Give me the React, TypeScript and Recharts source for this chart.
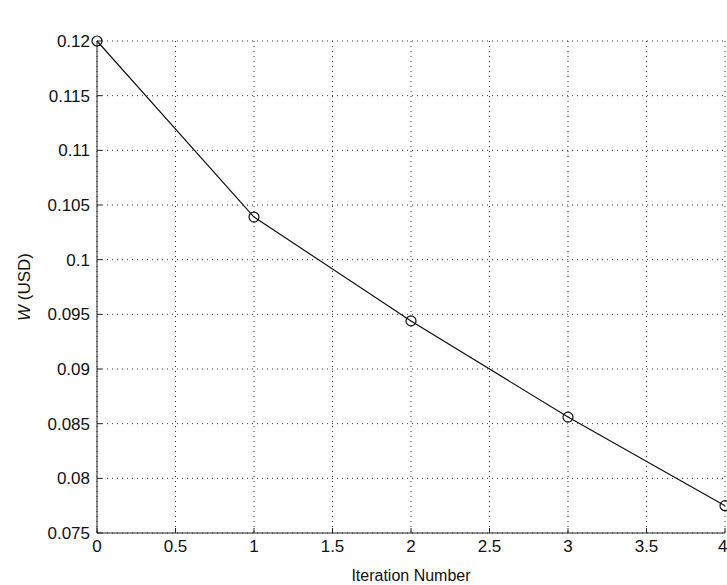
import React from "react";
import {
  LineChart,
  Line,
  XAxis,
  YAxis,
  CartesianGrid,
  Label,
} from "recharts";

const iterations = [0, 1, 2, 3, 4];
const warrantCost = [0.12, 0.1039, 0.0944, 0.0856, 0.0775];

const xTicks = [0, 0.5, 1, 1.5, 2, 2.5, 3, 3.5, 4];
const yTicks = [0.075, 0.08, 0.085, 0.09, 0.095, 0.1, 0.105, 0.11, 0.115, 0.12];

const data = iterations.map((it, i) => ({ it, w: warrantCost[i] }));

const FONT = "'Liberation Sans', Arial, sans-serif";
const tickStyle = { fontSize: 17, fill: "#111", fontFamily: FONT };

const YLabel = ({ viewBox }: any) => {
  const cx = viewBox.x + 24;
  const cy = viewBox.y + viewBox.height / 2;
  return (
    <text
      x={cx}
      y={cy}
      transform={`rotate(-90 ${cx} ${cy})`}
      textAnchor="middle"
      dominantBaseline="central"
      style={{ fontSize: 17, fill: "#111", fontFamily: FONT }}
    >
      <tspan fontStyle="italic">W</tspan> (USD)
    </text>
  );
};

export default function App() {
  return (
    <div style={{ position: "absolute", left: 0, top: 0, background: "#fff" }}>
      <LineChart
        width={727}
        height={585}
        data={data}
        margin={{ top: 41, right: 2, bottom: 0, left: 0 }}
      >
        <CartesianGrid
          xAxisId="bottom"
          yAxisId="left"
          stroke="#333"
          strokeDasharray="1 4"
        />
        <XAxis
          xAxisId="bottom"
          dataKey="it"
          type="number"
          domain={[0, 4]}
          ticks={xTicks}
          height={52}
          stroke="#222"
          tickSize={-5}
          tickMargin={12}
          tick={tickStyle}
        >
          <Label
            value="Iteration Number"
            position="insideBottom"
            offset={4}
            style={{ fontSize: 16, fill: "#111", fontFamily: FONT }}
          />
        </XAxis>
        <XAxis
          xAxisId="top"
          dataKey="it"
          type="number"
          orientation="top"
          domain={[0, 4]}
          ticks={xTicks}
          height={0}
          stroke="#222"
          tickSize={-5}
          tickFormatter={() => ""}
        >
          <Label
            value="Warrant Cost"
            position="top"
            offset={16}
            style={{ fontSize: 16, fill: "#111", fontFamily: FONT }}
          />
        </XAxis>
        <YAxis
          yAxisId="left"
          type="number"
          domain={[0.075, 0.12]}
          ticks={yTicks}
          width={97}
          stroke="#222"
          tickSize={-5}
          tickMargin={12}
          tick={tickStyle}
          tickFormatter={(v: number) => String(v)}
        >
          <Label content={<YLabel />} />
        </YAxis>
        <YAxis
          yAxisId="right"
          orientation="right"
          type="number"
          domain={[0.075, 0.12]}
          ticks={yTicks}
          width={0}
          stroke="#222"
          tickSize={-5}
          tickFormatter={() => ""}
        />
        <Line
          xAxisId="bottom"
          yAxisId="left"
          dataKey="w"
          type="linear"
          stroke="#111"
          strokeWidth={1.2}
          dot={{ r: 5, stroke: "#111", strokeWidth: 1.2, fill: "none" }}
          isAnimationActive={false}
        />
      </LineChart>
    </div>
  );
}
